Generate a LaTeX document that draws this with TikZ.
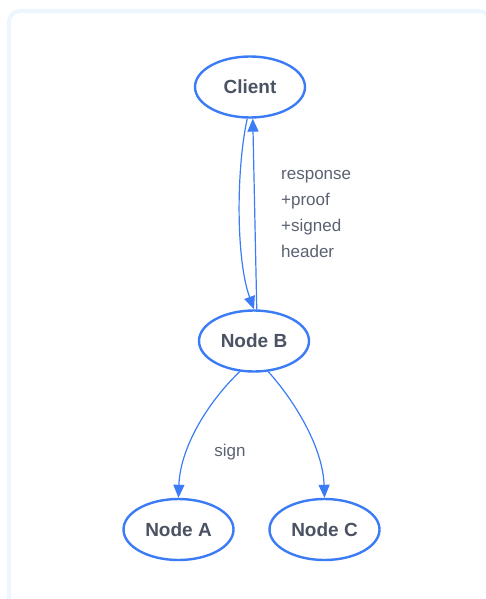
\documentclass[tikz,border=0pt]{standalone}
\usepackage{fontspec}
\setmainfont{Liberation Sans}
\usetikzlibrary{shapes.geometric,arrows.meta}
\definecolor{edgeblue}{HTML}{3B7CF6}
\definecolor{labelgray}{HTML}{4B5262}
\definecolor{textgray}{HTML}{5A6170}
\definecolor{framecol}{HTML}{EDF6FE}
\tikzset{
  peer/.style={ellipse, draw=edgeblue, line width=2.4pt, fill=white,
    minimum width=110pt, minimum height=61pt, inner sep=0pt,
    text=labelgray, font=\fontsize{19}{22}\selectfont\bfseries},
  link/.style={draw=edgeblue, line width=1.2pt,
    -{Triangle[length=13pt,width=11pt]}},
  note/.style={text=textgray, font=\fontsize{17}{26}\selectfont, inner sep=0pt}
}
\begin{document}
\begin{tikzpicture}[x=1pt,y=-1pt]
  \useasboundingbox (0,0) rectangle (486,599);
  % outer panel
  \draw[framecol, line width=4pt, rounded corners=11pt] (9,11) rectangle (490,630);

  % nodes
  \node[peer] (client) at (250,87) {Client};
  \node[peer] (nodeb) at (254,341) {Node B};
  \node[peer] (nodea) at (178.5,529.5) {Node A};
  \node[peer] (nodec) at (324.5,529.5) {Node C};

  % request down and response back up
  \draw[link] (client.-95) .. controls (236,170) and (236,260) .. (nodeb.north);
  \draw[link] (nodeb.85) -- (client.-85);
  \node[note, anchor=north west, align=left] (resp) at (281,170)
    {response\\+proof\\+signed\\header};

  % fan-out from Node B
  \draw[link] (nodeb.-115) .. controls (205,405) and (180,450) .. (nodea.north);
  \draw[link] (nodeb.-65) .. controls (298,405) and (323,450) .. (nodec.north);
  \node[note] (sign) at (230,452) {sign};
\end{tikzpicture}
\end{document}
